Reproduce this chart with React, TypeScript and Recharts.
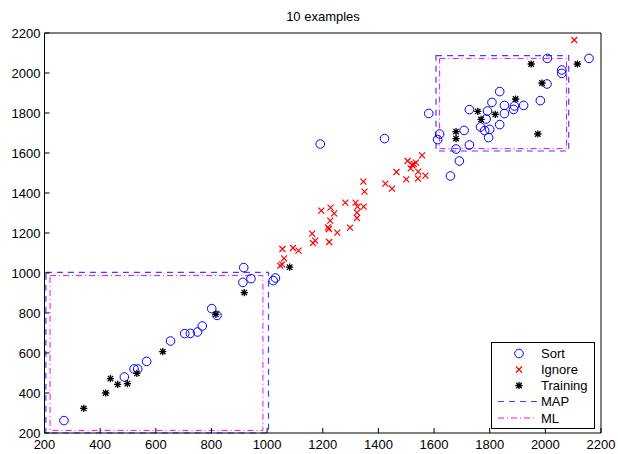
import { Legend, ReferenceArea, Scatter, ScatterChart, XAxis, YAxis } from "recharts";

const FONT = '"Liberation Sans", Arial, Helvetica, sans-serif';
const MAP_BLUE = "#3f3fff";

const axisTicks = [200, 400, 600, 800, 1000, 1200, 1400, 1600, 1800, 2000, 2200];

// [x, y]
const sortPoints = [
  [270, 262], [487, 480], [522, 520], [535, 520], [567, 558], [653, 660],
  [704, 697], [724, 698], [750, 705], [767, 735], [801, 822], [820, 788],
  [916, 1027], [913, 953], [942, 972], [1030, 975], [1022, 962],
  [1191, 1645], [1422, 1672],
  [1581, 1798], [1620, 1695], [1613, 1667], [1679, 1620], [1691, 1560],
  [1659, 1485], [1727, 1640], [1708, 1713], [1727, 1817], [1767, 1730],
  [1782, 1712], [1800, 1718], [1796, 1677], [1787, 1770], [1792, 1810],
  [1808, 1853], [1836, 1907], [1853, 1838], [1853, 1797], [1836, 1742],
  [1889, 1835], [1886, 1818], [1922, 1838], [1982, 1862], [2006, 1945],
  [2007, 2073], [2059, 2015], [2059, 1998], [2157, 2073],
];

const ignorePoints = [
  [1047, 1037], [1054, 1043], [1061, 1073], [1055, 1120], [1093, 1125],
  [1113, 1112], [1162, 1197], [1173, 1162], [1165, 1150], [1223, 1155],
  [1195, 1312], [1228, 1327], [1241, 1298], [1227, 1262], [1219, 1228],
  [1222, 1220], [1252, 1202], [1281, 1352], [1318, 1352], [1325, 1332],
  [1347, 1332], [1323, 1302], [1323, 1275], [1298, 1227], [1346, 1457],
  [1350, 1407], [1425, 1447], [1449, 1422], [1465, 1505], [1500, 1468],
  [1505, 1560], [1521, 1540], [1516, 1523], [1527, 1545], [1535, 1552],
  [1542, 1472], [1543, 1507], [1557, 1588], [1569, 1487], [2104, 2165],
];

const trainingPoints = [
  [341, 323], [420, 400], [437, 472], [463, 443], [498, 447], [532, 498],
  [625, 607], [816, 793], [918, 902], [1081, 1029],
  [1679, 1707], [1679, 1672], [1757, 1808], [1769, 1768], [1820, 1793],
  [1893, 1870], [1949, 2045], [1988, 1950], [1973, 1695], [2115, 2045],
];

// boxes as [x1, x2, y1, y2]
const mapBoxes = [[205, 1005, 200, 1003], [1607, 2084, 1610, 2087]];
const mlBoxes = [[220, 985, 213, 987], [1620, 2076, 1622, 2073]];

const legendNames = ["Sort", "Ignore", "Training", "MAP", "ML"];

const toRows = (pts: number[][]) => pts.map(([x, y]) => ({ x, y }));

const CircleMark = (p: any) => (
  <circle cx={p.cx} cy={p.cy} r={4.3} fill="none" stroke="#0000ff" strokeWidth={1} />
);

const CrossMark = (p: any) => (
  <path
    d={`M${p.cx - 3},${p.cy - 3}L${p.cx + 3},${p.cy + 3}M${p.cx - 3},${p.cy + 3}L${p.cx + 3},${p.cy - 3}`}
    stroke="#ff0000"
    strokeWidth={1.2}
  />
);

const StarMark = (p: any) => (
  <path
    d={`M${p.cx - 3.6},${p.cy}L${p.cx + 3.6},${p.cy}M${p.cx},${p.cy - 3.6}L${p.cx},${p.cy + 3.6}` +
      `M${p.cx - 2.7},${p.cy - 2.7}L${p.cx + 2.7},${p.cy + 2.7}M${p.cx - 2.7},${p.cy + 2.7}L${p.cx + 2.7},${p.cy - 2.7}`}
    stroke="#000"
    strokeWidth={1.3}
  />
);

const BottomTick = ({ x, y, payload }: any) => (
  <g>
    <line x1={x} x2={x} y1={y} y2={y - 5} stroke="#000" />
    <text x={x} y={y + 16} textAnchor="middle" fontSize={13} fontFamily={FONT} fill="#000">
      {payload.value}
    </text>
  </g>
);

const LeftTick = ({ x, y, payload }: any) => (
  <g>
    <line x1={x} x2={x + 5} y1={y} y2={y} stroke="#000" />
    <text x={x - 4} y={y + 4.5} textAnchor="end" fontSize={13} fontFamily={FONT} fill="#000">
      {payload.value}
    </text>
  </g>
);

const TopTick = ({ x, y }: any) => <line x1={x} x2={x} y1={y} y2={y + 5} stroke="#000" />;
const RightTick = ({ x, y }: any) => <line x1={x} x2={x - 5} y1={y} y2={y} stroke="#000" />;

const LegendBox = () => {
  const rowY = [11.5, 27.5, 43.5, 59.5, 76];
  return (
    <svg width={104} height={88} style={{ display: "block" }}>
      <rect x={0.5} y={0.5} width={103} height={86} fill="#fff" stroke="#000" />
      <CircleMark cx={28} cy={rowY[0]} />
      <CrossMark cx={28} cy={rowY[1]} />
      <StarMark cx={28} cy={rowY[2]} />
      <path d={`M7,${rowY[3]}H46`} stroke={MAP_BLUE} strokeWidth={1.2} strokeDasharray="6 5" fill="none" />
      <path d={`M7,${rowY[4]}H46`} stroke="#ff00ff" strokeDasharray="6 3 1 3" fill="none" />
      {legendNames.map((n, i) => (
        <text key={n} x={50} y={rowY[i] + 4.5} fontSize={13} fontFamily={FONT} fill="#000">
          {n}
        </text>
      ))}
    </svg>
  );
};

export default function App() {
  return (
    <div style={{ position: "absolute", left: 0, top: 0, width: 618, height: 454, background: "#fff" }}>
      <div
        style={{
          position: "absolute", left: 45, top: 9, width: 556, textAlign: "center",
          fontFamily: FONT, fontSize: 13, color: "#000", zIndex: 2,
        }}
      >
        10 examples
      </div>
      <ScatterChart width={618} height={454} margin={{ top: 32, right: 16, bottom: 1, left: 4.5 }}>
        <XAxis
          type="number" dataKey="x" domain={[200, 2200]} ticks={axisTicks} interval={0}
          height={20} tickSize={0} tickMargin={0} tickLine={false}
          axisLine={{ stroke: "#000" }} tick={BottomTick}
        />
        <XAxis
          xAxisId="top" orientation="top" type="number" domain={[200, 2200]} ticks={axisTicks}
          interval={0} height={1} tickSize={0} tickMargin={0} tickLine={false}
          axisLine={{ stroke: "#000" }} tick={TopTick}
        />
        <YAxis
          type="number" dataKey="y" domain={[200, 2200]} ticks={axisTicks} interval={0}
          width={40} tickSize={0} tickMargin={0} tickLine={false}
          axisLine={{ stroke: "#000" }} tick={LeftTick}
        />
        <YAxis
          yAxisId="right" orientation="right" type="number" domain={[200, 2200]} ticks={axisTicks}
          interval={0} width={1} tickSize={0} tickMargin={0} tickLine={false}
          axisLine={{ stroke: "#000" }} tick={RightTick}
        />
        {mapBoxes.map(([x1, x2, y1, y2], i) => (
          <ReferenceArea
            key={`map-${i}`} x1={x1} x2={x2} y1={y1} y2={y2}
            fill="none" fillOpacity={0} stroke={MAP_BLUE} strokeWidth={1.2} strokeDasharray="6 5" ifOverflow="visible"
          />
        ))}
        {mlBoxes.map(([x1, x2, y1, y2], i) => (
          <ReferenceArea
            key={`ml-${i}`} x1={x1} x2={x2} y1={y1} y2={y2}
            fill="none" fillOpacity={0} stroke="#ff00ff" strokeDasharray="6 3 1 3" ifOverflow="visible"
          />
        ))}
        <Scatter name="Sort" data={toRows(sortPoints)} shape={CircleMark} isAnimationActive={false} />
        <Scatter name="Ignore" data={toRows(ignorePoints)} shape={CrossMark} isAnimationActive={false} />
        <Scatter name="Training" data={toRows(trainingPoints)} shape={StarMark} isAnimationActive={false} />
        <Legend
          layout="horizontal" verticalAlign="middle" align="center"
          wrapperStyle={{ left: 491, top: 342, width: 104, height: 88 }}
          content={() => <LegendBox />}
        />
      </ScatterChart>
    </div>
  );
}
